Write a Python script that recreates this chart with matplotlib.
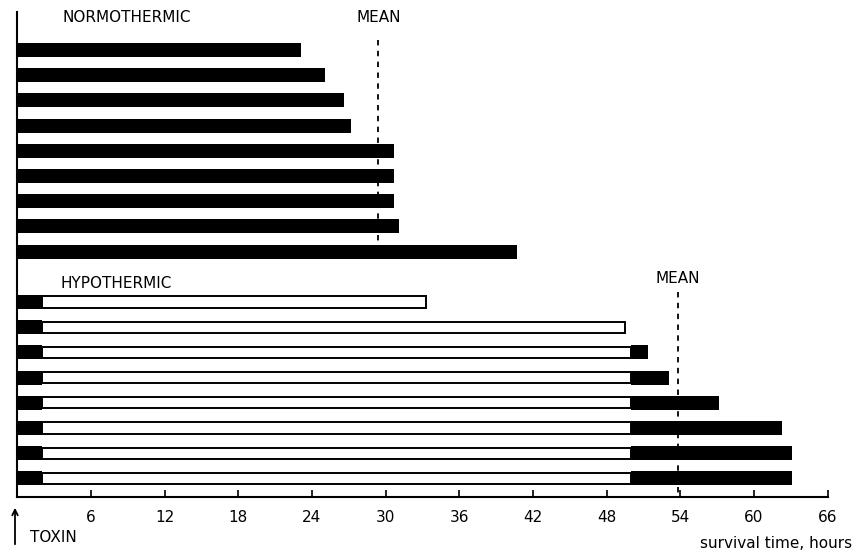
import matplotlib
matplotlib.use("Agg")
import matplotlib.pyplot as plt

# survival times (hours after toxin)
normo_hours = [23.1, 25.1, 26.6, 27.2, 30.7, 30.7, 30.7, 31.1, 40.7]
hypo_cold_end = [33.3, 49.5, 50.0, 50.0, 50.0, 50.0, 50.0, 50.0]
hypo_hours = [33.3, 49.5, 51.4, 53.1, 57.2, 62.3, 63.1, 63.1]
toxin_phase = 2.0
mean_hours = [29.4, 53.8]
xticks = [6, 12, 18, 24, 30, 36, 42, 48, 54, 60, 66]

W, H = 855, 556
fig = plt.figure(figsize=(W / 100, H / 100), dpi=100)
# axes placed so 0 h sits on the left line and 66 h at the axis end
x0, x66, ytop, ybot = 17.4, 827.5, 12, 497
ax = fig.add_axes([x0 / W, (H - ybot) / H, (x66 - x0) / W, (ybot - ytop) / H])

slot = 25.2
ax.set_xlim(0, 66)
ax.set_ylim((ybot - 50) / slot, (ytop - 50) / slot)

bh = 0.55
normo_y = list(range(len(normo_hours)))
hypo_y = [10 + i for i in range(len(hypo_hours))]

ax.barh(normo_y, normo_hours, height=bh, color="black")

# hypothermic: toxin phase black, cooled phase white, rewarmed phase black
ax.barh(hypo_y, [toxin_phase] * len(hypo_y), height=bh, color="black")
ax.barh(hypo_y, [c - toxin_phase for c in hypo_cold_end], left=toxin_phase,
        height=bh * 0.82, color="white", edgecolor="black", linewidth=1.4)
rewarm = [h - c for h, c in zip(hypo_hours, hypo_cold_end)]
ax.barh(hypo_y, rewarm, left=hypo_cold_end, height=bh, color="black")

# mean lines
ax.plot([mean_hours[0]] * 2, [-0.4, 7.6], ls=(0, (3, 3)), color="black", lw=1.3)
ax.plot([mean_hours[1]] * 2, [9.6, (ybot - 50) / slot], ls=(0, (3, 3)),
        color="black", lw=1.3)

lab = dict(fontsize=11, color="black", va="center")
ax.text(3.7, -1.27, "NORMOTHERMIC", ha="left", **lab)
ax.text(mean_hours[0], -1.27, "MEAN", ha="center", **lab)
ax.text(3.5, 9.25, "HYPOTHERMIC", ha="left", **lab)
ax.text(mean_hours[1], 9.05, "MEAN", ha="center", **lab)

for s in ["top", "right"]:
    ax.spines[s].set_visible(False)
ax.spines["left"].set_linewidth(1.5)
ax.spines["bottom"].set_linewidth(1.5)
ax.set_yticks([])
ax.set_xticks(xticks)
ax.tick_params(axis="x", direction="in", length=5, width=1.2, labelsize=11, pad=9)

# toxin marker and axis title
ax.annotate("", xy=(15 / W, (H - 505) / H), xytext=(15 / W, (H - 547) / H),
            xycoords="figure fraction", textcoords="figure fraction",
            arrowprops=dict(arrowstyle="->", color="black", lw=1.3))
fig.text(30 / W, (H - 538) / H, "TOXIN", fontsize=11, va="center", ha="left")
fig.text(852 / W, (H - 543) / H, "survival time, hours", fontsize=11,
         va="center", ha="right")

fig.savefig("out.png", dpi=100)
